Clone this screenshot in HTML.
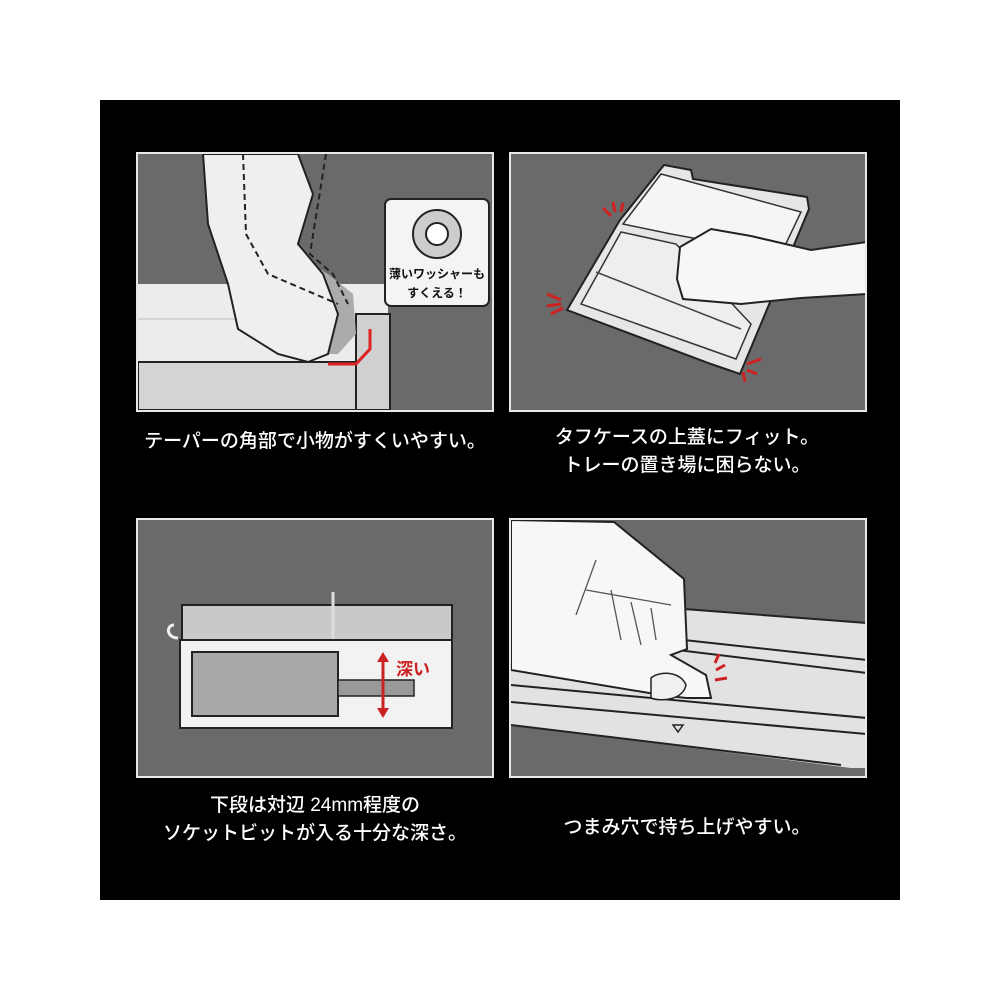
<!DOCTYPE html>
<html><head><meta charset="utf-8"><style>
body{margin:0;background:#fff;}
#c{position:relative;width:1000px;height:1000px;background:#fff;overflow:hidden;}
#b{position:absolute;left:100px;top:100px;width:800px;height:800px;background:#000;}
.p{position:absolute;width:354px;height:256px;border:2px solid #e8e8e8;background:#6a6a6a;overflow:hidden;}
.t{position:absolute;color:#fff;font-family:"Liberation Sans","Noto Sans CJK JP",sans-serif;font-size:19px;line-height:28px;text-align:center;width:380px;font-weight:500;}
svg{position:absolute;left:0;top:0;}
</style></head><body><div id="c"><div id="b"></div>

<div class="p" style="left:136px;top:152px;">
<svg width="354" height="256">
<rect x="0" y="130" width="250" height="126" fill="#ececec"/>
<line x1="0" y1="165" x2="250" y2="165" stroke="#bbb"/>
<rect x="0" y="208" width="220" height="48" fill="#d4d4d4" stroke="#222" stroke-width="2"/>
<rect x="218" y="160" width="34" height="96" fill="#d0d0d0" stroke="#222" stroke-width="2"/>
<path d="M100 0 L140 0 L160 60 L150 95 L190 120 L215 140 L218 180 L200 200 L175 200 L125 170 L90 130 L70 40 Z" fill="#ababab"/>
<path d="M65 0 L160 0 L175 40 L160 90 L185 120 L200 160 L190 200 L170 208 L140 200 L100 175 L90 130 L70 70 Z" fill="#efefef" stroke="#222" stroke-width="2"/>
<path d="M105 0 L108 80 L130 120 L200 150" fill="none" stroke="#222" stroke-width="2" stroke-dasharray="6 4"/>
<path d="M188 0 L180 50 L172 100 L195 120 L210 150" fill="none" stroke="#222" stroke-width="2" stroke-dasharray="6 4"/>
<path d="M190 210 L218 210 L232 195 L232 175" fill="none" stroke="#d22" stroke-width="3"/>
<rect x="247" y="45" width="104" height="107" rx="6" fill="#f4f4f4" stroke="#222" stroke-width="2"/>
<circle cx="299" cy="80" r="24" fill="#ccc" stroke="#222" stroke-width="2"/>
<circle cx="299" cy="80" r="11" fill="#fff" stroke="#222" stroke-width="2"/>
<text x="299" y="124" font-size="12" text-anchor="middle" font-weight="bold" font-family="Liberation Sans,Noto Sans CJK JP,sans-serif" fill="#111">薄いワッシャーも</text>
<text x="299" y="143" font-size="12" text-anchor="middle" font-weight="bold" font-family="Liberation Sans,Noto Sans CJK JP,sans-serif" fill="#111">すくえる！</text>
</svg></div>

<div class="p" style="left:509px;top:152px;">
<svg width="354" height="256">
<path d="M109 66 L153 11 L180 16 L182 25 L296 43 L298 55 L229 220 L200 210 L56 156 Z" fill="#e6e6e6" stroke="#222" stroke-width="2"/>
<path d="M112 70 L150 20 L180 28 L290 58 L270 100 L160 80 Z" fill="#f5f5f5" stroke="#333" stroke-width="1.5"/>
<path d="M70 150 L110 78 L165 90 L240 170 L225 205 Z" fill="#eeeeee" stroke="#333" stroke-width="1.5"/>
<line x1="85" y1="118" x2="230" y2="175" stroke="#444" stroke-width="1.5"/>
<path d="M169 93 L200 75 L240 82 L300 96 L356 88 L356 140 L290 144 L230 150 L172 145 L166 125 Z" fill="#f7f7f7" stroke="#222" stroke-width="2"/>
<g stroke="#c22" stroke-width="3"><line x1="100" y1="62" x2="92" y2="54"/><line x1="104" y1="58" x2="102" y2="48"/><line x1="110" y1="58" x2="112" y2="49"/>
<line x1="50" y1="146" x2="36" y2="140"/><line x1="50" y1="150" x2="36" y2="152"/><line x1="52" y1="154" x2="40" y2="160"/>
<line x1="236" y1="210" x2="250" y2="205"/><line x1="236" y1="216" x2="246" y2="220"/><line x1="232" y1="218" x2="234" y2="228"/></g>
</svg></div>

<div class="p" style="left:136px;top:518px;">
<svg width="354" height="256">
<path d="M36 105 C28 105 28 118 40 118" fill="none" stroke="#eee" stroke-width="3"/>
<rect x="44" y="85" width="270" height="40" fill="#c9c9c9" stroke="#222" stroke-width="2"/>
<line x1="195" y1="72" x2="195" y2="120" stroke="#ddd" stroke-width="3"/>
<rect x="42" y="120" width="272" height="88" fill="#f2f2f2" stroke="#222" stroke-width="2"/>
<rect x="54" y="132" width="146" height="64" fill="#a9a9a9" stroke="#222" stroke-width="2"/>
<rect x="200" y="160" width="76" height="16" fill="#999" stroke="#222" stroke-width="1.5"/>
<line x1="245" y1="140" x2="245" y2="190" stroke="#c22" stroke-width="3"/>
<path d="M239 142 L245 132 L251 142 Z M239 188 L245 198 L251 188 Z" fill="#c22"/>
<text x="258" y="155" font-size="17" font-weight="bold" fill="#c22" font-family="Liberation Sans,Noto Sans CJK JP,sans-serif">深い</text>
</svg></div>

<div class="p" style="left:509px;top:518px;">
<svg width="354" height="256">
<path d="M0 150 L173 89 L356 103 L356 256 L0 256 Z" fill="#e2e2e2"/>
<path d="M0 205 L340 248 L356 248 L356 256 L0 256 Z" fill="#6a6a6a"/>
<g stroke="#222" stroke-width="2" fill="none">
<line x1="173" y1="89" x2="356" y2="103"/>
<line x1="173" y1="120" x2="356" y2="140"/>
<line x1="150" y1="128" x2="356" y2="153"/>
<line x1="0" y1="165" x2="356" y2="198"/>
<line x1="0" y1="182" x2="356" y2="214"/>
<line x1="0" y1="205" x2="330" y2="245"/>
</g>
<path d="M0 0 L103 2 L173 59 L176 129 L160 135 L195 155 L200 178 L175 178 L150 175 L0 150 Z" fill="#f7f7f7" stroke="#222" stroke-width="2"/>
<path d="M140 158 C150 150 170 152 175 165 C172 180 150 182 140 178 Z" fill="#f0f0f0" stroke="#222" stroke-width="1.5"/>
<g stroke="#555" stroke-width="1.3" fill="none"><path d="M85 40 L65 95"/><path d="M100 70 L110 120"/><path d="M120 82 L130 125"/><path d="M140 88 L145 120"/><path d="M75 70 L160 85"/></g>
<path d="M162 205 L172 205 L167 212 Z" fill="none" stroke="#222" stroke-width="1.5"/>
<g stroke="#c22" stroke-width="3"><line x1="205" y1="150" x2="214" y2="145"/><line x1="204" y1="160" x2="216" y2="158"/><line x1="204" y1="143" x2="208" y2="134"/></g>
</svg></div>

<div class="t" style="left:125px;top:428px;">テーパーの角部で小物がすくいやすい。</div>
<div class="t" style="left:497px;top:424px;">タフケースの上蓋にフィット。<br>トレーの置き場に困らない。</div>
<div class="t" style="left:125px;top:792px;">下段は対辺 24mm程度の<br>ソケットビットが入る十分な深さ。</div>
<div class="t" style="left:497px;top:814px;">つまみ穴で持ち上げやすい。</div>
</div></body></html>
